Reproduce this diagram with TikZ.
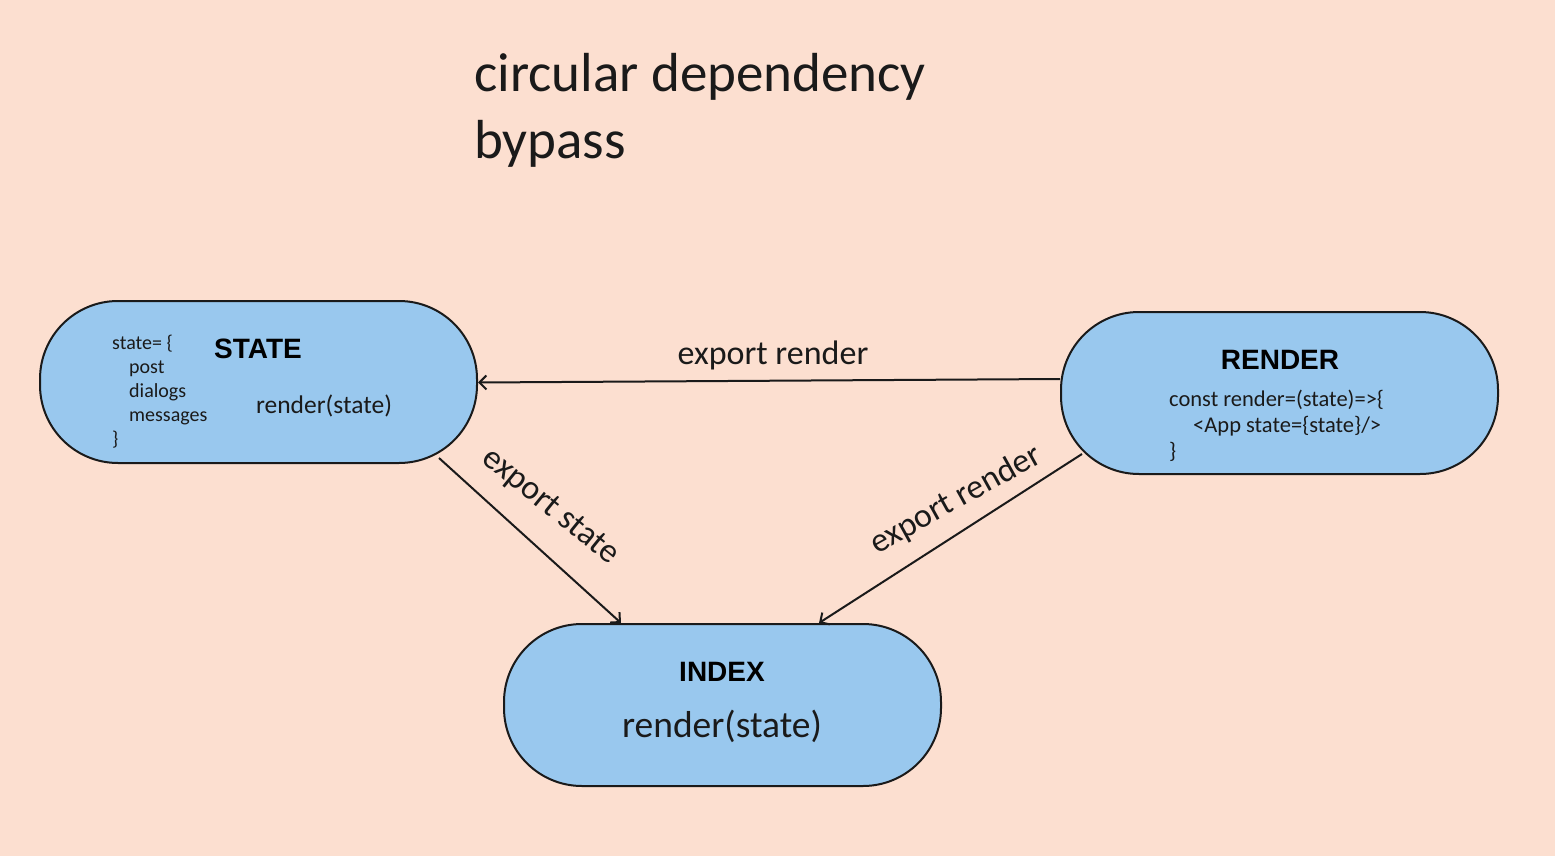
\documentclass[tikz,border=0pt]{standalone}
\usepackage{fontspec}
\setmainfont{Liberation Sans}
\newfontfamily\hand{Carlito}
\usetikzlibrary{arrows.meta}
\definecolor{bgpeach}{HTML}{FCDFD0}
\definecolor{nodeblue}{HTML}{99C8EE}
\definecolor{ink}{HTML}{1A1A1A}
\tikzset{
  pill/.style={draw=ink, line width=2pt, fill=nodeblue, rounded corners=78pt,
    minimum width=437pt, minimum height=162pt, inner sep=0pt},
  heading/.style={font=\fontsize{28}{32}\selectfont\bfseries, text=black, inner sep=0pt},
  handtext/.style={font=\hand, text=ink, inner sep=0pt},
  conn/.style={draw=ink, line width=2pt, -{Straight Barb[length=7pt,width=14pt,line width=2pt]}},
  edgelabel/.style={font=\hand\fontsize{34}{38}\selectfont, text=ink, inner sep=0pt}
}
\begin{document}
\begin{tikzpicture}[x=1pt,y=-1pt]
\useasboundingbox[fill=bgpeach] (0,0) rectangle (1555,856);
% title
\node[handtext, anchor=base west, font=\hand\fontsize{55}{66}\selectfont] (title1) at (474,92) {circular dependency};
\node[handtext, anchor=base west, font=\hand\fontsize{55}{66}\selectfont] (title2) at (474,158) {bypass};
% nodes
\node[pill] (state) at (258.5,382) {};
\node[pill] (render) at (1279.5,393) {};
\node[pill] (index) at (722.5,705) {};
% STATE contents
\node[heading, anchor=center] (statehead) at (258,349) {STATE};
\node[handtext, anchor=north west, align=left, font=\hand\fontsize{20}{24}\selectfont] (statecode) at (112,335) {state= \{\\\hspace{17pt}post\\\hspace{17pt}dialogs\\\hspace{17pt}messages\\\}};
\node[handtext, anchor=center, font=\hand\fontsize{25.5}{28}\selectfont] (staterender) at (324,406) {render(state)};
% RENDER contents
\node[heading, anchor=center] (renderhead) at (1280,360) {RENDER};
\node[handtext, anchor=north west, align=left, font=\hand\fontsize{22.5}{26}\selectfont] (rendercode) at (1169,390) {const render=(state)=>\{\\\hspace{24pt}<App state=\{state\}/>\\\}};
% INDEX contents
\node[heading, anchor=center] (indexhead) at (722,672) {INDEX};
\node[handtext, anchor=center, font=\hand\fontsize{37.5}{42}\selectfont] (indexrender) at (722,726) {render(state)};
% connectors
\draw[conn] ([yshift=14pt]render.west) -- ([yshift=-0.5pt]state.east);
\draw[conn] ([xshift=-39pt,yshift=6pt]state.south east) -- ([xshift=-101.5pt]index.north);
\draw[conn] ([xshift=22pt,yshift=21pt]render.south west) -- ([xshift=96.5pt]index.north);
% edge labels
\node[edgelabel] (lbl1) at (773,355) {export render};
\node[edgelabel, rotate=-39] (lbl2) at (550,507) {export state};
\node[edgelabel, rotate=29] (lbl3) at (956,500) {export render};
\end{tikzpicture}
\end{document}
